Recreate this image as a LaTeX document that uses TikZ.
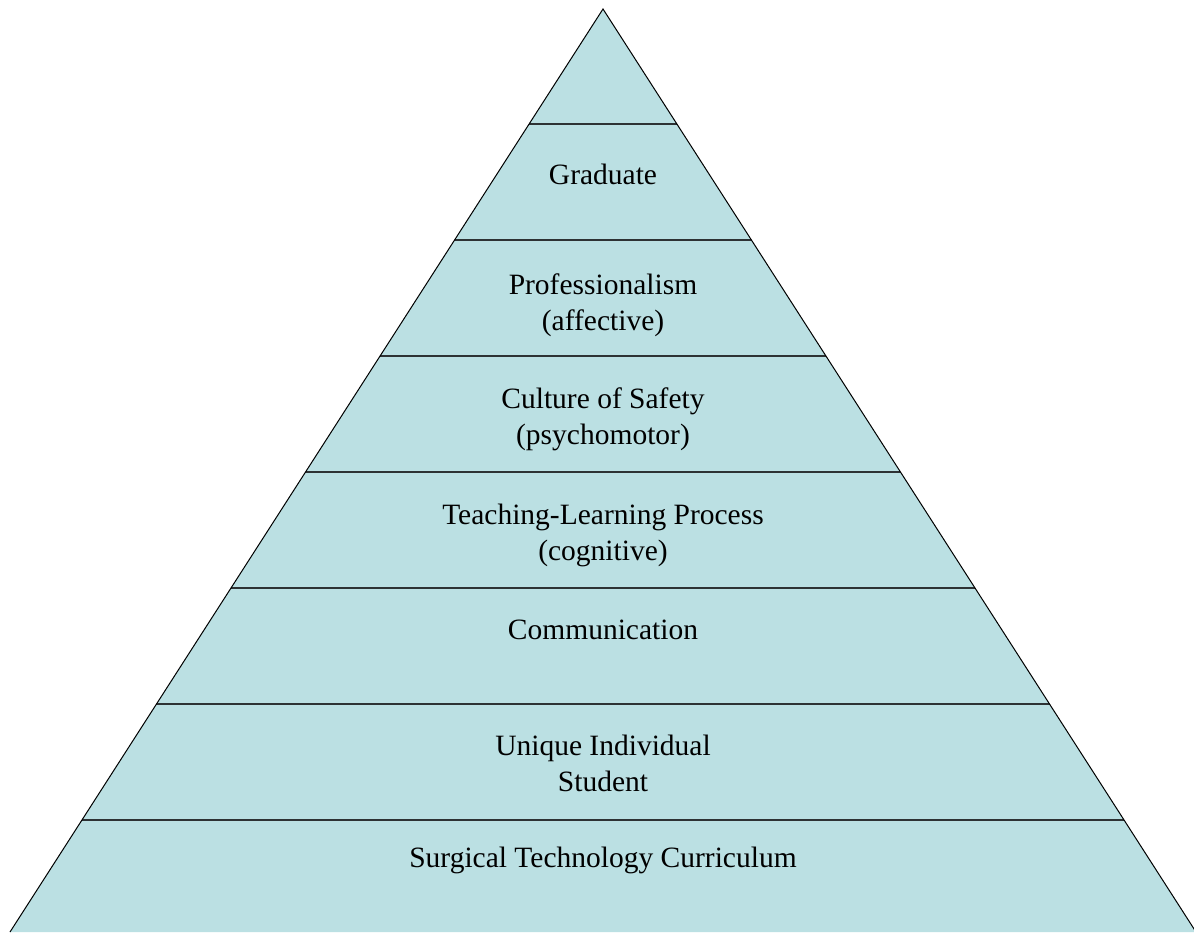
\documentclass[tikz,border=0pt]{standalone}
\usepackage{fontspec}
\setmainfont{Liberation Serif}
\usepackage{tikz}
\usetikzlibrary{positioning}

\definecolor{pyrfill}{RGB}{187,224,227}
\definecolor{pyrline}{RGB}{45,50,52}

\begin{document}
\begin{tikzpicture}[x=1pt,y=-1pt,
    level/.style={align=center,font=\fontsize{29.5}{36}\selectfont,inner sep=0pt},
    divider/.style={draw=pyrline,line width=2.2pt},
    side/.style={draw=black,line width=1pt}]

\useasboundingbox (0,0) rectangle (1194,932);

\coordinate (apex) at (603,9);
\coordinate (baseR) at (1196,932);
\coordinate (baseL) at (10,932);

% body of the pyramid
\begin{scope}
    \clip (apex) -- (baseR) -- (baseL) -- cycle;
    \fill[pyrfill] (apex) -- (baseR) -- (baseL) -- cycle;
    \foreach \y in {124,240,356,472,588,704,820}
        \draw[divider] (0,\y) -- (1194,\y);
\end{scope}
\draw[side] (baseL) -- (apex) -- (baseR);

% labels, top to bottom
\node[level] (graduate) at (603,174) {Graduate};
\node[level] (prof) at (603,305) {Professionalism\\(affective)};
\node[level] (safety) at (603,419) {Culture of Safety\\(psychomotor)};
\node[level] (teach) at (603,535) {Teaching-Learning Process\\(cognitive)};
\node[level] (comm) at (603,630) {Communication};
\node[level] (student) at (603,763) {Unique Individual\\Student};
\node[level] (curric) at (603,860) {Surgical Technology Curriculum};

\end{tikzpicture}
\end{document}
